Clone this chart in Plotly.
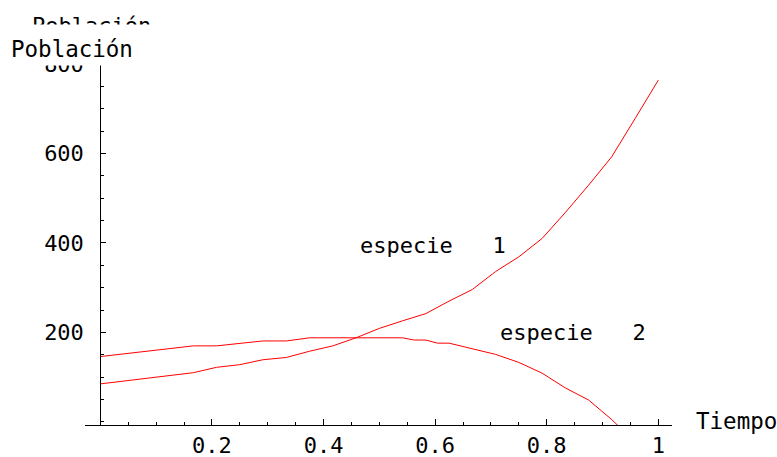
import plotly.graph_objects as go

# Data
t1 = [0, 0.1667, 0.2083, 0.25, 0.2917, 0.3333, 0.375, 0.4167, 0.4583, 0.5,
      0.5417, 0.5833, 0.625, 0.6667, 0.7083, 0.75, 0.7917, 0.8333, 0.875,
      0.9167, 0.9583, 1.0]
especie1 = [85, 110, 122, 128, 139, 144, 158, 170, 188, 209,
            226, 242, 270, 296, 336, 369, 410, 468, 529,
            593, 678, 764]

t2 = [0, 0.1667, 0.2083, 0.2917, 0.3333, 0.375, 0.5417, 0.5625, 0.5833,
      0.6042, 0.625, 0.6667, 0.7083, 0.75, 0.7917, 0.8333, 0.875, 0.9167, 0.9583]
especie2 = [146, 170, 170, 181, 181, 188, 188, 183, 183,
            176, 176, 163, 151, 133, 109, 76, 49, 5, -45]

x_ticks = [0.2, 0.4, 0.6, 0.8, 1.0]
x_ticktext = ["0.2", "0.4", "0.6", "0.8", "1"]
y_ticks = [200, 400, 600, 800]
y_ticktext = ["200", "400", "600", "800"]

x_range = [-0.0274, 1.0245]
y_range = [-6.9, 800]

FONT = "DejaVu Sans Mono"
RED = "#ff0000"

fig = go.Figure()
fig.add_trace(go.Scatter(x=t1, y=especie1, mode="lines",
                         line=dict(color=RED, width=1), showlegend=False))
fig.add_trace(go.Scatter(x=t2, y=especie2, mode="lines",
                         line=dict(color=RED, width=1), showlegend=False))

yaxis_pos = (0 - x_range[0]) / (x_range[1] - x_range[0])

fig.update_layout(
    width=777, height=457,
    margin=dict(l=85, r=105, t=64, b=32, pad=0, autoexpand=False),
    paper_bgcolor="white", plot_bgcolor="white",
    font=dict(family=FONT, size=22, color="black"),
    xaxis=dict(range=x_range, showgrid=False, zeroline=False, automargin=False,
               showline=True, linecolor="black", linewidth=1,
               ticks="inside", ticklen=6, tickwidth=1, tickcolor="black",
               tickmode="array", tickvals=x_ticks, ticktext=x_ticktext,
               ticklabelstandoff=1,
               minor=dict(tickmode="linear", tick0=0, dtick=0.05,
                          ticks="inside", ticklen=3, tickcolor="black",
                          showgrid=False),
               tickfont=dict(family=FONT, size=22)),
    yaxis=dict(range=y_range, showgrid=False, zeroline=False, automargin=False,
               anchor="free", position=yaxis_pos,
               showline=True, linecolor="black", linewidth=1,
               ticks="inside", ticklen=5, tickwidth=1, tickcolor="black",
               tickmode="array", tickvals=y_ticks, ticktext=y_ticktext,
               ticklabelstandoff=12,
               minor=dict(tickmode="linear", tick0=0, dtick=50,
                          ticks="inside", ticklen=3, tickcolor="black",
                          showgrid=False),
               tickfont=dict(family=FONT, size=22)),
)

annotations = [
    # faint clipped duplicate of the axis label at the very top
    dict(text="Población", xref="paper", yref="paper",
         x=(30 - 85) / 587, y=(425 - 26) / 361, xanchor="left", yanchor="middle",
         showarrow=False, font=dict(family=FONT, size=22, color="black")),
    # white box that hides most of it (and the top of the 800 label)
    dict(text=" ", xref="paper", yref="paper",
         x=(0 - 85) / 587, y=(425 - 23.5) / 361, xanchor="left", yanchor="top",
         width=150, height=38, bgcolor="white", showarrow=False),
    dict(text="Población", xref="paper", yref="paper",
         x=(9 - 85) / 587, y=(425 - 49) / 361, xanchor="left", yanchor="middle",
         showarrow=False, font=dict(family=FONT, size=22.5, color="black")),
    dict(text="Tiempo", xref="paper", yref="paper",
         x=(694 - 85) / 587, y=(425 - 421) / 361, xanchor="left", yanchor="middle",
         showarrow=False, font=dict(family=FONT, size=22.5, color="black")),
    dict(text="especie   1", xref="x", yref="y",
         x=0.4618, y=395, xanchor="left", yanchor="middle",
         showarrow=False, font=dict(family=FONT, size=22, color="black")),
    dict(text="especie   2", xref="x", yref="y",
         x=0.7127, y=199, xanchor="left", yanchor="middle",
         showarrow=False, font=dict(family=FONT, size=22, color="black")),
]
fig.update_layout(annotations=annotations)

fig.write_html("out.html")
